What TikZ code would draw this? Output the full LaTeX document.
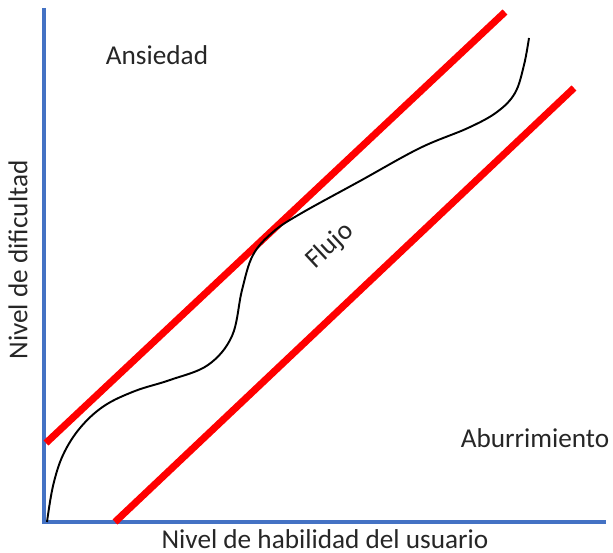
\documentclass[tikz,border=0pt]{standalone}
\usepackage{fontspec}
\setmainfont{Carlito}
\definecolor{axisblue}{RGB}{68,114,196}
\begin{document}
\begin{tikzpicture}[x=0.02cm,y=-0.02cm]
    \tikzstyle{axis}=[draw=axisblue, line width=2.4pt]
    \tikzstyle{limit}=[draw=red, line width=4pt]
    \tikzstyle{label}=[inner sep=0pt, font=\fontsize{15.5}{18}\selectfont, text=black!85]
    \useasboundingbox (0,0) rectangle (613,553);
    % ejes
    \coordinate (O) at (44,522);
    \coordinate (ytop) at (44,8);
    \coordinate (xend) at (606,522);
    \draw [axis] (ytop) -- (O) -- (xend);
    % limites del canal de flujo
    \coordinate (a1) at (46,443);
    \coordinate (a2) at (505,12);
    \coordinate (b1) at (115,522);
    \coordinate (b2) at (574,88);
    \draw [limit] (a1) -- (a2);
    \draw [limit] (b1) -- (b2);
    % curva
    \draw [black, line width=1.1pt] plot [smooth, tension=0.6] coordinates {
        (47,522) (53,486) (63,455) (80,428) (104,406) (135,391) (170,380)
        (208,365) (232,336) (242,290) (253,255) (273,232) (300,214)
        (360,181) (420,148) (468,128) (497,112) (515,93) (524,65) (529,38)};
    % textos
    \node [label] (ansiedad) at (157,55) {Ansiedad};
    \node [label, rotate=43] (flujo) at (330,246) {Flujo};
    \node [label] (aburrimiento) at (535,438) {Aburrimiento};
    \node [label, rotate=90] (ylabel) at (18,260) {Nivel de dificultad};
    \node [label] (xlabel) at (325,539) {Nivel de habilidad del usuario};
\end{tikzpicture}
\end{document}
